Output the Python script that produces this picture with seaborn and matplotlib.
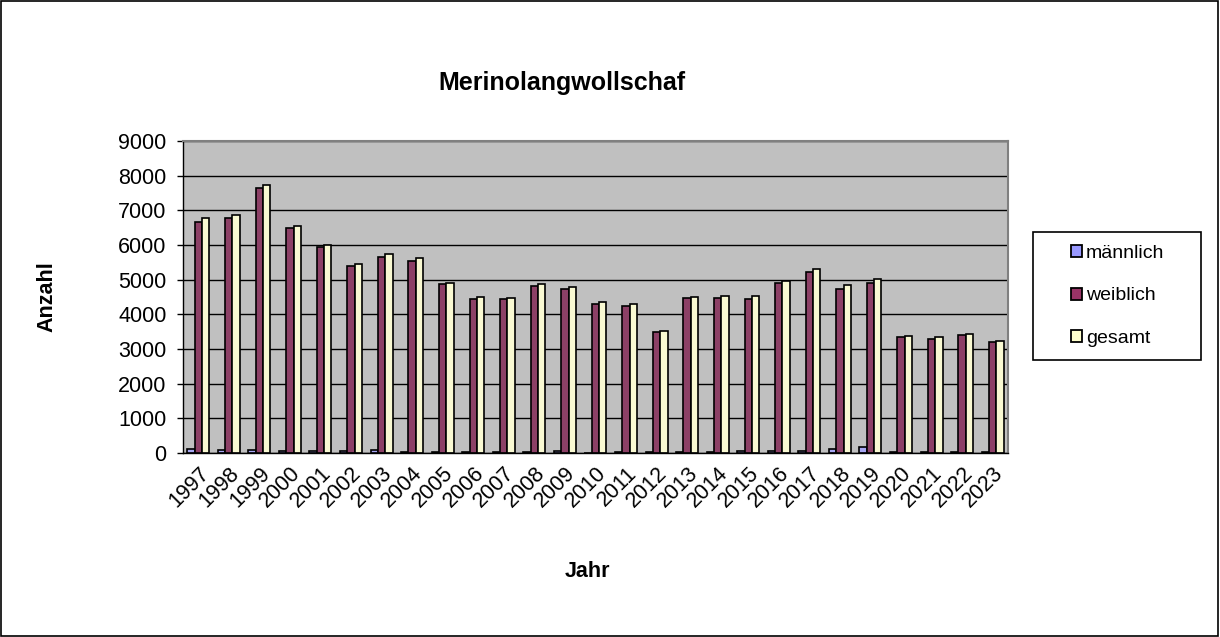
import numpy as np
import pandas as pd
import matplotlib
matplotlib.use("Agg")
import matplotlib.pyplot as plt
import seaborn as sns
from matplotlib.patches import Rectangle

# data
jahre = [str(j) for j in range(1997, 2024)]
maennlich = [110, 95, 90, 70, 60, 60, 75, 35, 25, 25, 20, 30, 45,
             10, 30, 20, 20, 40, 70, 60, 70, 110, 160, 30, 35, 35, 25]
weiblich = [6670, 6780, 7640, 6490, 5940, 5390, 5660, 5540, 4860, 4440, 4450, 4830, 4730,
            4310, 4250, 3490, 4470, 4470, 4440, 4910, 5220, 4730, 4910, 3350, 3300, 3400, 3210]
gesamt = [6780, 6870, 7730, 6560, 5990, 5450, 5740, 5610, 4890, 4500, 4470, 4860, 4800,
          4360, 4300, 3520, 4500, 4530, 4530, 4960, 5310, 4850, 5020, 3380, 3340, 3440, 3240]

df = pd.DataFrame({"Jahr": jahre, "männlich": maennlich, "weiblich": weiblich, "gesamt": gesamt})
df = df.melt(id_vars="Jahr", var_name="Gruppe", value_name="Anzahl")

sns.set_style("white")
plt.rcParams["font.family"] = ["Liberation Sans", "DejaVu Sans"]
plt.rcParams.update({"text.color": "black", "axes.labelcolor": "black",
                     "xtick.color": "black", "ytick.color": "black"})

fig = plt.figure(figsize=(12.2, 6.37), dpi=100)
ax = fig.add_axes([0.15, 0.2889, 0.6762, 0.4898])

farben = {"männlich": "#9999FF", "weiblich": "#993366", "gesamt": "#FFFFCC"}
sns.barplot(data=df, x="Jahr", y="Anzahl", hue="Gruppe", palette=farben,
            edgecolor="black", linewidth=1.2, width=0.72, gap=0, ax=ax, legend=False)

ax.set_facecolor("#C0C0C0")
ax.set_ylim(0, 9000)
ax.set_xlim(-0.5, len(jahre) - 0.5)
ax.set_yticks(range(0, 9001, 1000))
ax.yaxis.grid(True, color="black", linewidth=1)
ax.set_axisbelow(True)
for s in ["top", "right"]:
    ax.spines[s].set_color("#808080")
    ax.spines[s].set_linewidth(1.5)
for s in ["left", "bottom"]:
    ax.spines[s].set_color("black")
    ax.spines[s].set_linewidth(1)

ax.set_xticks(np.arange(-0.5, len(jahre), 1), minor=True)
ax.tick_params(axis="x", which="minor", length=4, color="black", width=1)
ax.tick_params(axis="x", which="major", length=0, pad=7)
ax.tick_params(axis="y", length=4.3, color="black", width=1, left=True, pad=7.5)
ax.set_xticks(range(len(jahre)))
ax.set_xticklabels(jahre, rotation=45, ha="right", rotation_mode="anchor", fontsize=15.5)
for lab in ax.get_yticklabels():
    lab.set_fontsize(15.5)

ax.set_xlabel("Jahr", fontsize=15.5, fontweight="bold")
ax.set_ylabel("Anzahl", fontsize=15.5, fontweight="bold")
ax.xaxis.label.set_va("center")
ax.xaxis.set_label_coords(0.4905, -0.381)
ax.yaxis.set_label_coords(-0.1527, 0.5)

fig.text(0.461, 0.869, "Merinolangwollschaf", ha="center", va="center",
         fontsize=18, fontweight="bold")

# legend: frame drawn by hand, entries placed inside it
fig.add_artist(Rectangle((1033 / 1220, 1 - 360 / 637), 168 / 1220, 128 / 637,
                         transform=fig.transFigure, facecolor="white",
                         edgecolor="black", linewidth=1.2))
handles = [Rectangle((0, 0), 1, 1, facecolor=farben[k], edgecolor="black", linewidth=1.3)
           for k in ["männlich", "weiblich", "gesamt"]]
leg = fig.legend(handles, ["männlich", "weiblich", "gesamt"],
                 loc="center left", bbox_to_anchor=(1071 / 1220, 1 - 296 / 637),
                 frameon=False, fontsize=14, handlelength=0.57, handleheight=0.57,
                 handletextpad=0.2, labelspacing=1.31, borderpad=0,
                 borderaxespad=0)

fig.add_artist(Rectangle((0.001, 0.002), 0.997, 0.996, transform=fig.transFigure,
                         fill=False, edgecolor="black", linewidth=1.2))

fig.savefig("out.png", dpi=100)
